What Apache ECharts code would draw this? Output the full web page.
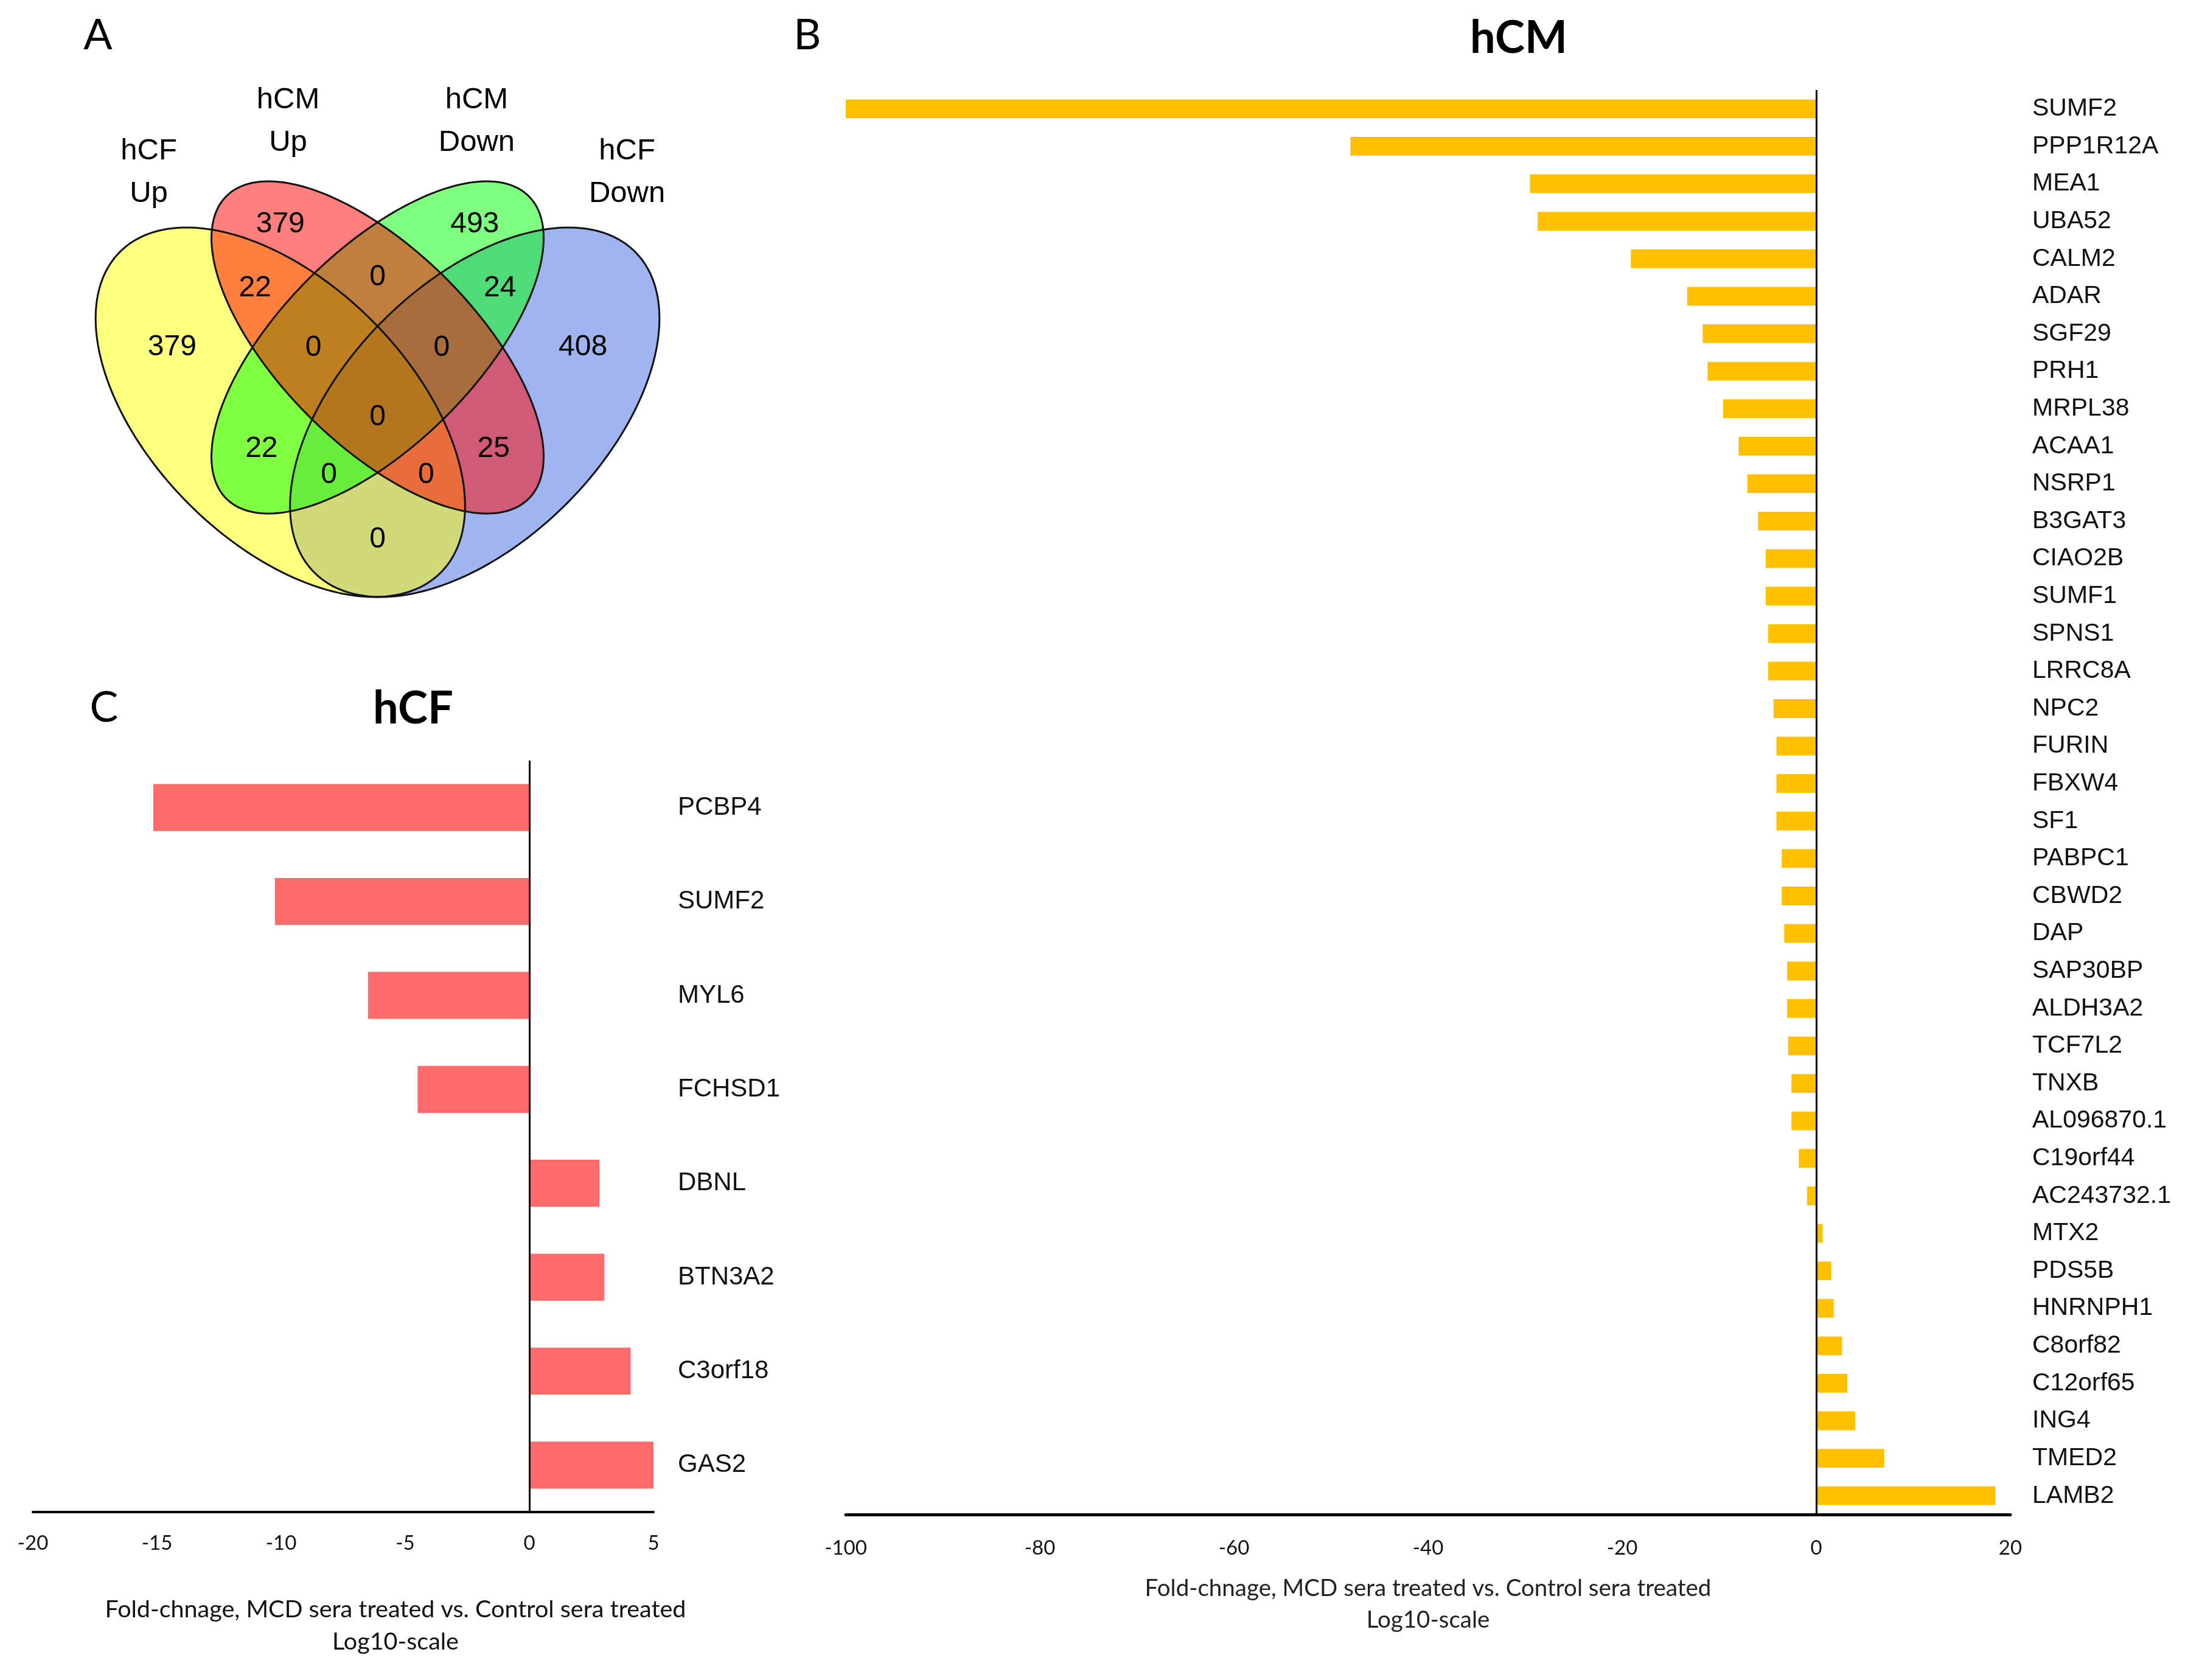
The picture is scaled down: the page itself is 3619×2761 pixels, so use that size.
<!DOCTYPE html>
<html>
<head>
<meta charset="utf-8">
<script src="https://cdn.jsdelivr.net/npm/echarts@6/dist/echarts.min.js"></script>
<style>
html,body{margin:0;padding:0;background:#ffffff;}
#chart{width:3619px;height:2761px;}
</style>
</head>
<body>
<div id="chart"></div>
<script>
// ---------------- DATA ----------------
const hcmGenes = ['SUMF2','PPP1R12A','MEA1','UBA52','CALM2','ADAR','SGF29','PRH1','MRPL38','ACAA1','NSRP1','B3GAT3','CIAO2B','SUMF1','SPNS1','LRRC8A','NPC2','FURIN','FBXW4','SF1','PABPC1','CBWD2','DAP','SAP30BP','ALDH3A2','TCF7L2','TNXB','AL096870.1','C19orf44','AC243732.1','MTX2','PDS5B','HNRNPH1','C8orf82','C12orf65','ING4','TMED2','LAMB2'];
const hcmValues = [-100,-48.0,-29.5,-28.7,-19.1,-13.3,-11.7,-11.2,-9.6,-8.0,-7.1,-6.0,-5.2,-5.2,-4.95,-4.95,-4.4,-4.1,-4.1,-4.1,-3.55,-3.55,-3.3,-3.0,-3.0,-2.9,-2.55,-2.55,-1.8,-0.95,0.65,1.55,1.8,2.65,3.2,4.0,7.0,18.45];
const hcfGenes = ['PCBP4','SUMF2','MYL6','FCHSD1','DBNL','BTN3A2','C3orf18','GAS2'];
const hcfValues = [-15.15,-10.25,-6.5,-4.5,2.82,3.02,4.08,5.03];
const hcmTicks = [-100,-80,-60,-40,-20,0,20];
const hcfTicks = [-20,-15,-10,-5,0,5];
const axisTitle = 'Fold-chnage, MCD sera treated vs. Control sera treated\nLog10-scale';
const vennSetNames = ['hCF\nUp','hCM\nUp','hCM\nDown','hCF\nDown'];
// regions: Rup, Rdown(green), Yup, Bdown, Y∩R, R∩G, G∩B, Y∩R∩G, R∩G∩B, all, Y∩G, R∩B, Y∩G∩B, Y∩R∩B, Y∩B
const vennRegionCounts = [379,493,379,408,22,0,24,0,0,0,22,25,0,0,0];

// ---------------- LAYOUT (unit square of the Venn panel) ----------------
const VENN_ELLIPSES = [ // drawing order: hCF Down, hCF Up, hCM Down, hCM Up
  {cx:0.65, cy:0.47, a:0.35, b:0.20, ang:45,  fill:'rgba(65,105,225,0.5)'},
  {cx:0.35, cy:0.47, a:0.35, b:0.20, ang:135, fill:'rgba(255,255,0,0.5)'},
  {cx:0.50, cy:0.57, a:0.33, b:0.15, ang:45,  fill:'rgba(0,255,0,0.5)'},
  {cx:0.50, cy:0.57, a:0.33, b:0.15, ang:135, fill:'rgba(255,0,0,0.5)'}
];
const VENN_REGION_POS = [[0.35,0.760],[0.65,0.760],[0.183,0.570],[0.817,0.570],[0.311,0.661],[0.5,0.678],[0.689,0.661],[0.401,0.569],[0.599,0.569],[0.5,0.462],[0.321,0.413],[0.679,0.413],[0.425,0.373],[0.575,0.373],[0.5,0.273]];
const VENN_SET_POS = [[0.147,0.840],[0.362,0.919],[0.653,0.919],[0.885,0.840]];

const chart = echarts.init(document.getElementById('chart'), null, {renderer:'canvas'});

function ellipseRender(fillMode){
  return function(params, api){
    const cx = api.value(0), cy = api.value(1), a = api.value(2), b = api.value(3), ang = api.value(4) * Math.PI / 180;
    const pts = [];
    const N = 240;
    for (let i = 0; i < N; i++) {
      const t = i / N * Math.PI * 2;
      const ux = a * Math.cos(t), uy = b * Math.sin(t);
      pts.push(api.coord([cx + ux * Math.cos(ang) - uy * Math.sin(ang), cy + ux * Math.sin(ang) + uy * Math.cos(ang)]));
    }
    return {
      type:'polygon',
      shape:{points:pts},
      style: fillMode ? {fill: VENN_ELLIPSES[params.dataIndex].fill, stroke:'none', lineWidth:0}
                      : {fill:'none', stroke:'#111', lineWidth:3}
    };
  };
}
function textRender(texts, fontSize, lineHeight){
  return function(params, api){
    const p = api.coord([api.value(0), api.value(1)]);
    return {
      type:'text', x:p[0], y:p[1],
      style:{text:String(texts[params.dataIndex]), fill:'#000', font:'normal ' + fontSize + 'px "Liberation Sans", Arial, sans-serif',
        textAlign:'center', textVerticalAlign:'middle', lineHeight:lineHeight}
    };
  };
}
const ellipseData = VENN_ELLIPSES.map(e => [e.cx, e.cy, e.a, e.b, e.ang]);
const regionData = vennRegionCounts.map((c, i) => [VENN_REGION_POS[i][0], VENN_REGION_POS[i][1], c]);
const setData = vennSetNames.map((n, i) => [VENN_SET_POS[i][0], VENN_SET_POS[i][1]]);

const tickFont = {fontFamily:'Lato, "Open Sans", sans-serif', fontSize:33, color:'#111'};
const catFont = {fontFamily:'"Liberation Sans", Arial, sans-serif', color:'#111'};

const option = {
  animation:false,
  backgroundColor:'#ffffff',
  grid:[
    {left:88, top:113, width:1065, height:1065, outerBoundsMode:'none', containLabel:false},
    {left:1390, top:148, width:1914, height:2341, outerBoundsMode:'none', containLabel:false},
    {left:54, top:1250, width:1020, height:1235, outerBoundsMode:'none', containLabel:false}
  ],
  xAxis:[
    {gridIndex:0, type:'value', min:0, max:1, show:false},
    {gridIndex:1, type:'value', min:hcmTicks[0], max:hcmTicks[hcmTicks.length-1], interval:hcmTicks[1]-hcmTicks[0],
      axisLine:{show:true, onZero:false, lineStyle:{color:'#000', width:5}},
      axisTick:{show:false}, splitLine:{show:false},
      axisLabel:Object.assign({margin:39}, tickFont),
      name:axisTitle, nameLocation:'middle', nameGap:96,
      nameTextStyle:{fontFamily:'Lato, "Open Sans", sans-serif', fontSize:38.5, lineHeight:52, color:'#222', align:'center'}
    },
    {gridIndex:2, type:'value', min:hcfTicks[0], max:hcfTicks[hcfTicks.length-1], interval:hcfTicks[1]-hcfTicks[0],
      axisLine:{show:true, onZero:false, lineStyle:{color:'#000', width:4}},
      axisTick:{show:false}, splitLine:{show:false},
      axisLabel:Object.assign({margin:35}, tickFont),
      name:axisTitle, nameLocation:'middle', nameGap:134,
      nameTextStyle:{fontFamily:'Lato, "Open Sans", sans-serif', fontSize:39.5, lineHeight:53, color:'#111', align:'center', padding:[0,0,0,172]}
    }
  ],
  yAxis:[
    {gridIndex:0, type:'value', min:0, max:1, show:false},
    {gridIndex:1, type:'category', data:hcmGenes, inverse:true, position:'right',
      axisLine:{show:false}, axisTick:{show:false}, splitLine:{show:false},
      axisLabel:Object.assign({margin:36, align:'left', fontSize:41}, catFont)},
    {gridIndex:2, type:'category', data:hcfGenes, inverse:true, position:'right',
      axisLine:{show:false}, axisTick:{show:false}, splitLine:{show:false},
      axisLabel:Object.assign({margin:40, align:'left', fontSize:42}, catFont)}
  ],
  series:[
    {type:'custom', name:'venn-fill', coordinateSystem:'cartesian2d', xAxisIndex:0, yAxisIndex:0, silent:true,
      data:ellipseData, renderItem:ellipseRender(true), z:1},
    {type:'custom', name:'venn-outline', coordinateSystem:'cartesian2d', xAxisIndex:0, yAxisIndex:0, silent:true,
      data:ellipseData, renderItem:ellipseRender(false), z:2},
    {type:'custom', name:'venn-counts', coordinateSystem:'cartesian2d', xAxisIndex:0, yAxisIndex:0, silent:true,
      data:regionData, renderItem:textRender(vennRegionCounts, 48, 48), z:3},
    {type:'custom', name:'venn-sets', coordinateSystem:'cartesian2d', xAxisIndex:0, yAxisIndex:0, silent:true,
      data:setData, renderItem:textRender(vennSetNames, 49, 70), z:3},
    {type:'bar', name:'hCM', xAxisIndex:1, yAxisIndex:1, data:hcmValues, barWidth:'50%',
      itemStyle:{color:'#FFC000'}, silent:true,
      markLine:{silent:true, symbol:['none','none'], label:{show:false}, lineStyle:{color:'#000', width:3, type:'solid'}, data:[{xAxis:0}]}},
    {type:'bar', name:'hCF', xAxisIndex:2, yAxisIndex:2, data:hcfValues, barWidth:'50%',
      itemStyle:{color:'#FF6B6B'}, silent:true,
      markLine:{silent:true, symbol:['none','none'], label:{show:false}, lineStyle:{color:'#000', width:3, type:'solid'}, data:[{xAxis:0}]}}
  ],
  graphic:[
    {type:'text', x:161, y:58, style:{text:'A', font:'normal 70px Lato, sans-serif', fill:'#000', textAlign:'center', textVerticalAlign:'middle'}},
    {type:'text', x:1327, y:58, style:{text:'B', font:'normal 70px Lato, sans-serif', fill:'#000', textAlign:'center', textVerticalAlign:'middle'}},
    {type:'text', x:171, y:1163, style:{text:'C', font:'normal 70px Lato, sans-serif', fill:'#000', textAlign:'center', textVerticalAlign:'middle'}},
    {type:'text', x:2496, y:63, style:{text:'hCM', font:'bold 74px Lato, sans-serif', fill:'#000', textAlign:'center', textVerticalAlign:'middle'}},
    {type:'text', x:679, y:1165, style:{text:'hCF', font:'bold 74px Lato, sans-serif', fill:'#000', textAlign:'center', textVerticalAlign:'middle'}}
  ]
};
chart.setOption(option);
</script>
</body>
</html>
